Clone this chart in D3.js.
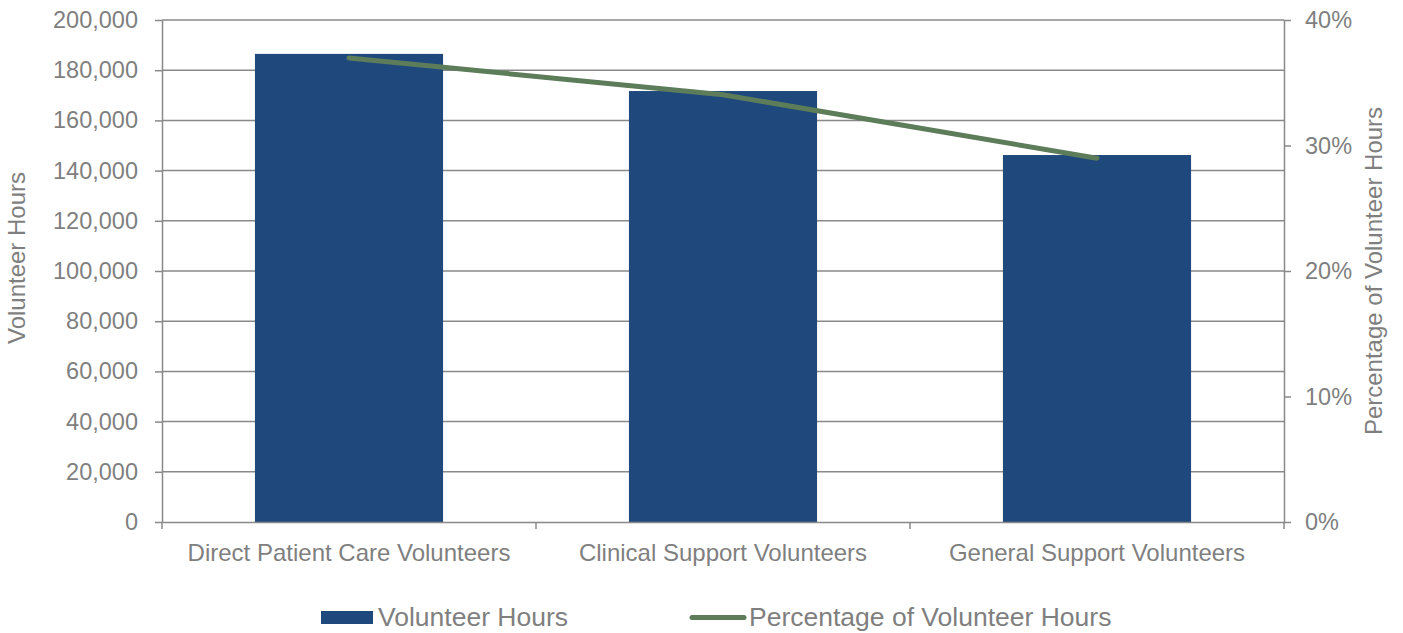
<!DOCTYPE html>
<html>
<head>
<meta charset="utf-8">
<script src="https://cdn.jsdelivr.net/npm/d3@7"></script>
<style>
  body { margin: 0; background: #fff; }
  text { font-family: "Liberation Sans", Arial, sans-serif; fill: #7f7f7f; }
</style>
</head>
<body>
<div id="chartArea"></div>
<script>
const categories = ['Direct Patient Care Volunteers', 'Clinical Support Volunteers', 'General Support Volunteers'];
const hours = [186500, 171700, 146200];
const percentages = [0.3697, 0.3404, 0.2899];
const hourTicks = [0, 20000, 40000, 60000, 80000, 100000, 120000, 140000, 160000, 180000, 200000];
const pctTicks = [0, 0.1, 0.2, 0.3, 0.4];

const svgWidth = 1403;
const svgHeight = 633;
const plotLeft = 162, plotRight = 1284, plotTop = 20, plotBottom = 522;

const barColor = '#1f487c';
const lineColor = '#5c7c5a';
const gridColor = '#898989';

const svg = d3.select('#chartArea')
  .append('svg')
  .attr('width', svgWidth)
  .attr('height', svgHeight);

const x = d3.scaleBand()
  .domain(categories)
  .range([plotLeft, plotRight])
  .paddingInner(0.497)
  .paddingOuter(0.2485);

const y = d3.scaleLinear().domain([0, 200000]).range([plotBottom, plotTop]);
const y2 = d3.scaleLinear().domain([0, 0.4]).range([plotBottom, plotTop]);

// gridlines
svg.append('g')
  .selectAll('line')
  .data(hourTicks.filter(d => d > 0))
  .join('line')
  .attr('x1', plotLeft)
  .attr('x2', plotRight)
  .attr('y1', d => y(d))
  .attr('y2', d => y(d))
  .attr('stroke', gridColor)
  .attr('stroke-width', 1.5);

// bars
svg.append('g')
  .selectAll('rect')
  .data(hours)
  .join('rect')
  .attr('x', (d, i) => x(categories[i]))
  .attr('y', d => y(d))
  .attr('width', x.bandwidth())
  .attr('height', d => plotBottom - y(d))
  .attr('fill', barColor);

// axes
const styleAxis = (g, size) => {
  g.select('.domain').attr('stroke', gridColor).attr('stroke-width', 1.5);
  g.selectAll('.tick line').attr('stroke', gridColor).attr('stroke-width', 1.5);
  g.selectAll('.tick text').attr('fill', '#7f7f7f').style('font-size', size)
    .style('font-family', '"Liberation Sans", Arial, sans-serif');
};

svg.append('g')
  .attr('transform', `translate(${plotLeft},0)`)
  .call(d3.axisLeft(y).tickValues(hourTicks).tickSize(7).tickPadding(17).tickSizeOuter(0)
    .tickFormat(d3.format(',')))
  .call(g => styleAxis(g, '23.5px'));

svg.append('g')
  .attr('transform', `translate(${plotRight},0)`)
  .call(d3.axisRight(y2).tickValues(pctTicks).tickSize(7).tickPadding(14).tickSizeOuter(0)
    .tickFormat(d3.format('.0%')))
  .call(g => styleAxis(g, '23.5px'));

const xAxis = svg.append('g')
  .attr('transform', `translate(0,${plotBottom})`)
  .call(d3.axisBottom(x).tickSize(0).tickPadding(22).tickSizeOuter(0))
  .call(g => styleAxis(g, '24px'));

// category separators on the bottom axis
xAxis.selectAll('.sep')
  .data([plotLeft, ...categories.map(c => x(c) + x.bandwidth() / 2 + x.step() / 2)])
  .join('line')
  .attr('x1', d => d)
  .attr('x2', d => d)
  .attr('y1', 0)
  .attr('y2', 7)
  .attr('stroke', gridColor)
  .attr('stroke-width', 1.5);

// percentage line
const line = d3.line()
  .x((d, i) => x(categories[i]) + x.bandwidth() / 2)
  .y(d => y2(d));

svg.append('path')
  .datum(percentages)
  .attr('d', line)
  .attr('fill', 'none')
  .attr('stroke', lineColor)
  .attr('stroke-width', 5)
  .attr('stroke-linecap', 'round')
  .attr('stroke-linejoin', 'round');

// axis titles
svg.append('text')
  .attr('transform', `translate(25,${(plotTop + plotBottom) / 2 - 13}) rotate(-90)`)
  .attr('text-anchor', 'middle')
  .style('font-size', '24px')
  .text('Volunteer Hours');

svg.append('text')
  .attr('transform', `translate(1382,${(plotTop + plotBottom) / 2}) rotate(-90)`)
  .attr('text-anchor', 'middle')
  .style('font-size', '24px')
  .text('Percentage of Volunteer Hours');

// legend
const legend = svg.append('g');
legend.append('rect')
  .attr('x', 321)
  .attr('y', 611)
  .attr('width', 52)
  .attr('height', 13)
  .attr('fill', barColor);
legend.append('text')
  .attr('x', 378)
  .attr('y', 626)
  .style('font-size', '26.5px')
  .text('Volunteer Hours');
legend.append('line')
  .attr('x1', 692)
  .attr('x2', 744)
  .attr('y1', 617.5)
  .attr('y2', 617.5)
  .attr('stroke', lineColor)
  .attr('stroke-width', 5)
  .attr('stroke-linecap', 'round');
legend.append('text')
  .attr('x', 749)
  .attr('y', 626)
  .style('font-size', '26.5px')
  .text('Percentage of Volunteer Hours');
</script>
</body>
</html>
